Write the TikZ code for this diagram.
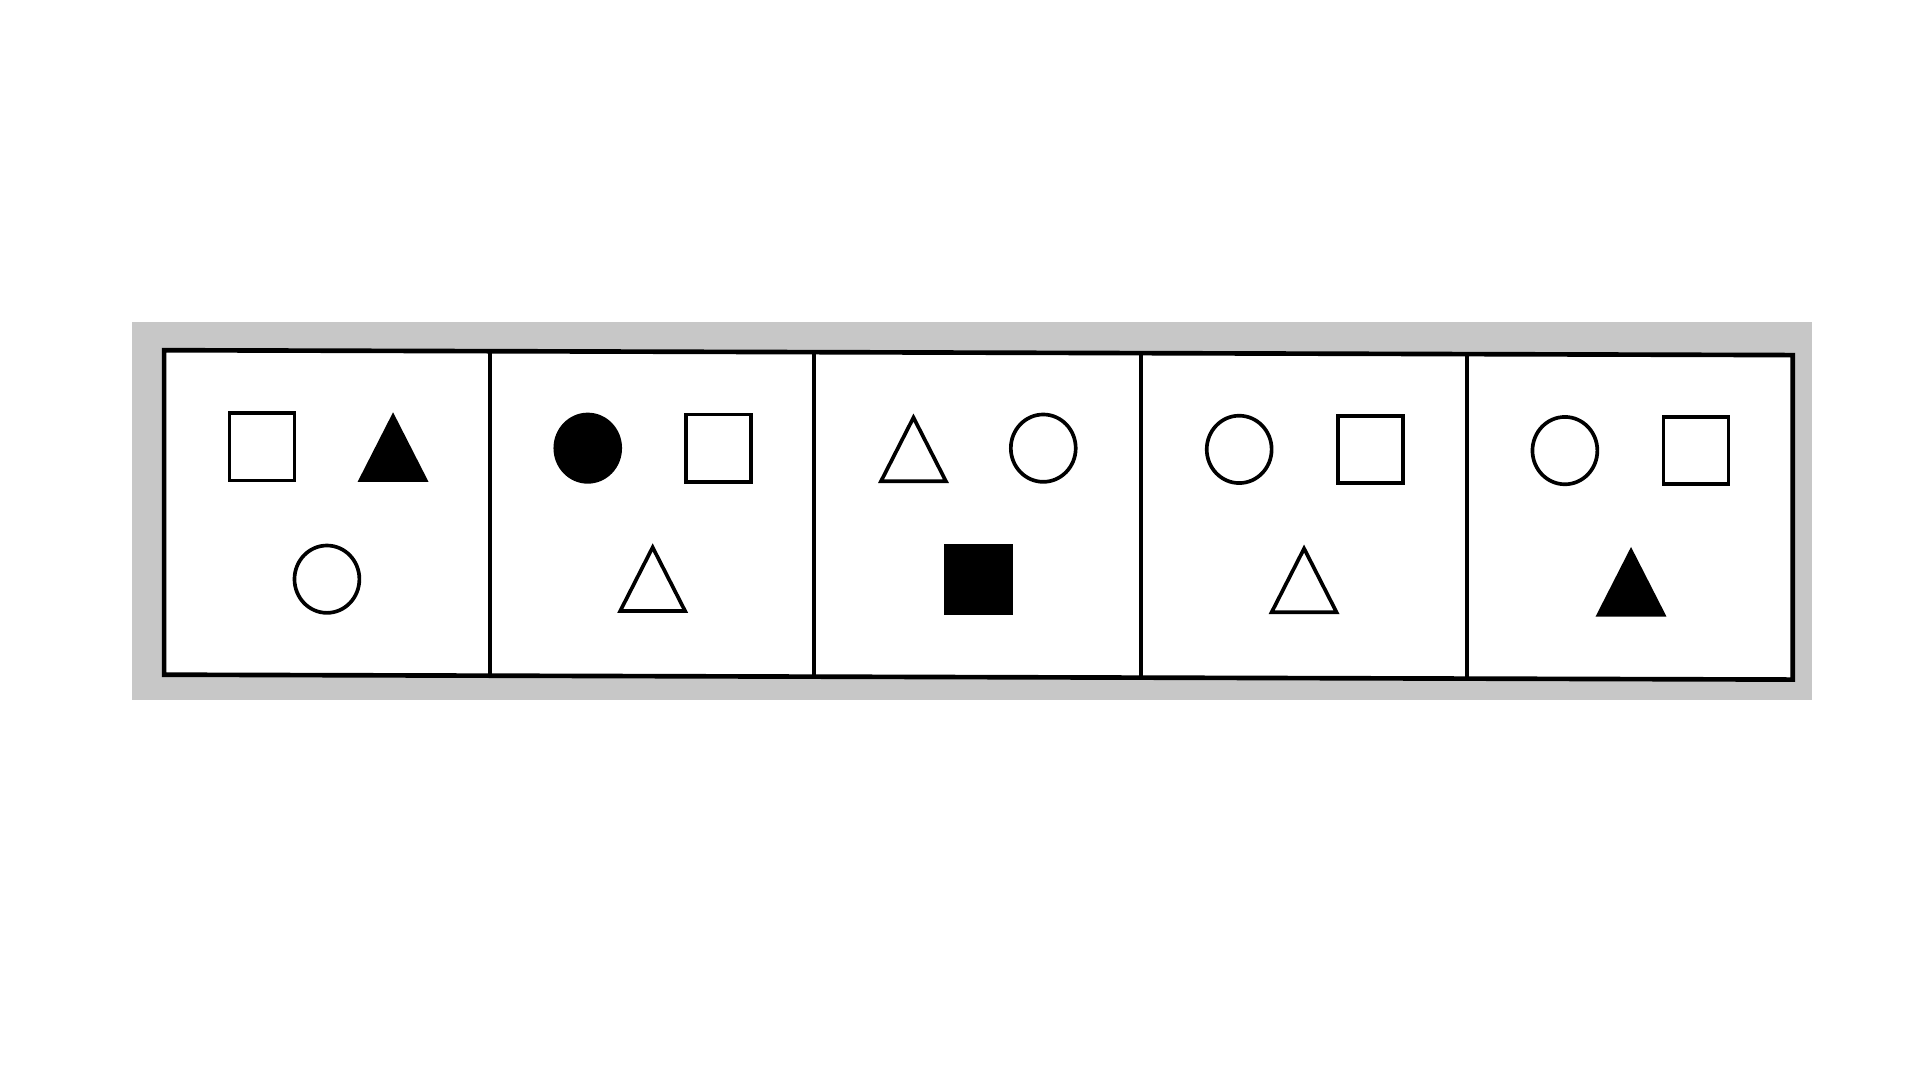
\documentclass[tikz,border=0pt]{standalone}
\begin{document}
\begin{tikzpicture}[x=1pt,y=-1pt,
  boxline/.style={line width=3.8pt,draw=black,line join=miter},
  divline/.style={line width=3pt,draw=black},
  shp/.style={line width=3pt,draw=black}]
\useasboundingbox (0,0) rectangle (1568,882);
\fill[white] (0,0) rectangle (1568,882);
% grey scanned border band
\fill[black!22] (108,263) rectangle (1480,572);
% outer box (slightly skewed like the scan)
\coordinate (TL) at (134,286);
\coordinate (TR) at (1464,290);
\coordinate (BR) at (1464,555);
\coordinate (BL) at (134,551);
\draw[boxline,fill=white] (TL) -- (TR) -- (BR) -- (BL) -- cycle;
% dividers
\foreach \n/\xx in {1/400,2/665,3/932,4/1198}{
  \coordinate (dt\n) at (\xx,{286+(\xx-134)/1330*4});
  \coordinate (db\n) at (\xx,{551+(\xx-134)/1330*4});
  \draw[divline] (dt\n) -- (db\n);
}
\newcommand\mysq[3]{\draw[shp,fill=#3] ({#1-26.5},{#2-27.5}) rectangle ({#1+26.5},{#2+27.5});}
\newcommand\mycirc[3]{\draw[shp,fill=#3] (#1,#2) ellipse [x radius=26.5pt, y radius=27.5pt];}
\newcommand\mytri[3]{\draw[shp,fill=#3] ({#1-26.5},{#2+26}) -- (#1,{#2-26}) -- ({#1+26.5},{#2+26}) -- cycle;}
% panel 1
\mysq{214}{365}{white}
\mytri{321}{366}{black}
\mycirc{267}{473}{white}
% panel 2
\mycirc{480}{366}{black}
\mysq{587}{366}{white}
\mytri{533}{473}{white}
% panel 3
\mytri{746}{367}{white}
\mycirc{852}{366}{white}
\mysq{799}{473}{black}
% panel 4
\mycirc{1012}{367}{white}
\mysq{1119}{367}{white}
\mytri{1065}{474}{white}
% panel 5
\mycirc{1278}{368}{white}
\mysq{1385}{368}{white}
\mytri{1332}{476}{black}
\end{tikzpicture}
\end{document}
